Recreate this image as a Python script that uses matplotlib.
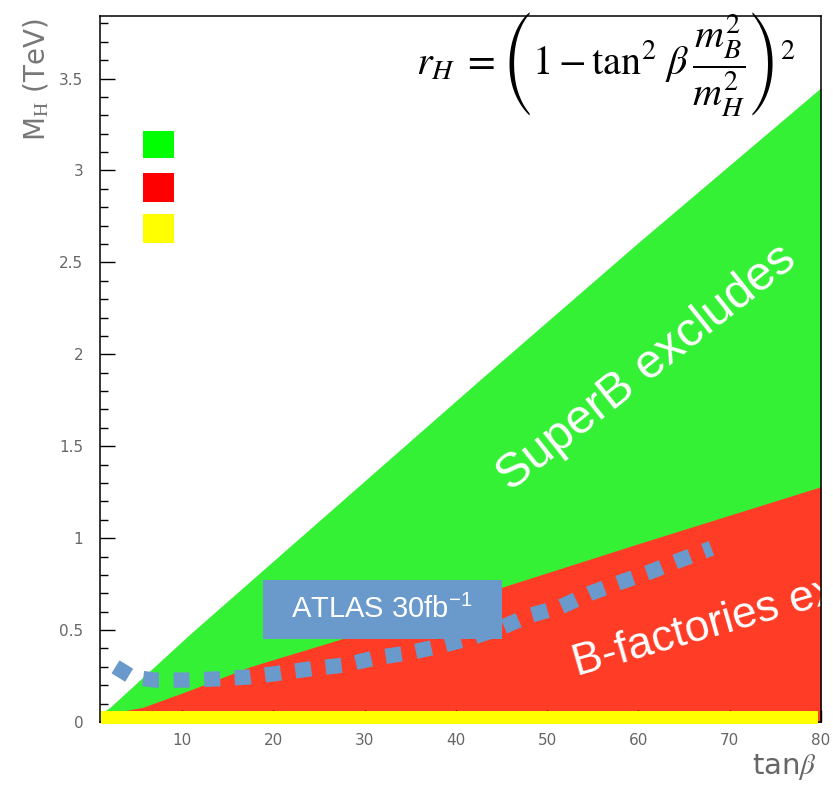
import matplotlib.pyplot as plt
from matplotlib.patches import Rectangle
from matplotlib.ticker import MultipleLocator, FixedLocator

# boundaries (tan beta, M_H in TeV)
tanb_superb = [1.5, 2.1, 10.9, 42.6, 59.8, 80.0]
mh_superb = [0.06, 0.08, 0.48, 1.86, 2.60, 3.45]

tanb_bfact = [3.5, 5.7, 10.9, 17.4, 30.0, 45.1, 60.0, 80.0]
mh_bfact = [0.06, 0.08, 0.174, 0.30, 0.49, 0.734, 0.97, 1.28]

tanb_band = [1.1, 79.7]
mh_band_lo = -0.01
mh_band_hi = 0.06

tanb_atlas = [2.7, 4.5, 7.0, 10.5, 14.0, 17.4, 20.7, 24.2, 27.8, 31.3, 34.7,
              38.0, 41.5, 44.8, 48.1, 51.4, 54.7, 58.0, 61.2, 64.5, 68.0]
mh_atlas = [0.30, 0.245, 0.228, 0.228, 0.235, 0.245, 0.266, 0.29, 0.31, 0.35,
            0.375, 0.41, 0.455, 0.51, 0.58, 0.625, 0.70, 0.76, 0.815, 0.88, 0.945]

xticks = [10, 20, 30, 40, 50, 60, 70, 80]
yticks = [0, 0.5, 1, 1.5, 2, 2.5, 3, 3.5]
ytick_labels = ["0", "0.5", "1", "1.5", "2", "2.5", "3", "3.5"]

green = "#35f135"
red = "#ff3c26"
yellow = "#ffff00"
blue = "#6a9acb"

plt.rcParams['font.family'] = ['Liberation Sans', 'DejaVu Sans']
plt.rcParams['mathtext.fontset'] = 'stix'

fig = plt.figure(figsize=(8.33, 7.87), dpi=100)
ax = fig.add_axes([100 / 833, 65 / 787, 721 / 833, 706 / 787])

ax.fill_between(tanb_superb, 0, mh_superb, color=green, lw=0, zorder=1)
ax.fill_between(tanb_bfact, 0, mh_bfact, color=red, lw=0, zorder=1.2)
ax.fill_between(tanb_band, mh_band_lo, mh_band_hi, color=yellow, lw=0,
                zorder=3, clip_on=False)

ax.plot(tanb_atlas, mh_atlas, color=blue, lw=11, linestyle=(0, (1.05, 0.95)),
        solid_capstyle='butt', dash_capstyle='butt', zorder=2)

# legend-like colour swatches
for (y0, y1, c) in [(3.065, 3.217, "#00ff00"), (2.826, 2.984, "#ff0000"),
                    (2.603, 2.761, yellow)]:
    ax.add_patch(Rectangle((5.7, y0), 3.4, y1 - y0, color=c, lw=0, zorder=2))

# ATLAS label box
ax.add_patch(Rectangle((18.85, 0.451), 26.25, 0.321, color=blue, lw=0, zorder=2.2))
ax.text(31.9, 0.61, r"ATLAS 30fb$^{\mathregular{-1}}$", color="white",
        fontsize=21, ha="center", va="center", zorder=2.3)

ax.text(46.0, 1.25, "SuperB excludes", color="white", fontsize=35,
        rotation=38.5, rotation_mode="anchor", ha="left", va="baseline", zorder=2.3)
ax.text(53.3, 0.25, "B-factories excludes", color="white", fontsize=32,
        rotation=16, rotation_mode="anchor", ha="left", va="baseline",
        zorder=2.3, clip_on=True)

ax.set_xlim(1, 80)
ax.set_ylim(0, 3.84)
ax.xaxis.set_major_locator(FixedLocator(xticks))
ax.yaxis.set_major_locator(FixedLocator(yticks))
ax.set_yticklabels(ytick_labels)
ax.yaxis.set_minor_locator(MultipleLocator(0.1))
ax.tick_params(axis='y', which='major', direction='in', length=11, width=1,
               pad=12, labelsize=11, labelcolor='#666666')
ax.tick_params(axis='y', which='minor', direction='in', length=6, width=1)
ax.tick_params(axis='x', which='major', direction='in', length=9, width=1,
               pad=8, labelsize=11, labelcolor='#666666')
for lab in ax.get_xticklabels() + ax.get_yticklabels():
    lab.set_family('DejaVu Sans')
for s in ax.spines.values():
    s.set_linewidth(1.1)

fig.text(37 / 833, 1 - 18 / 787, r"M$_{\mathrm{H}}$ (TeV)", rotation=90,
         ha="center", va="top", fontsize=20, color="#777777", family="DejaVu Sans")
fig.text(817 / 833, 1 - 767 / 787, r"tan$\beta$", ha="right", va="center",
         fontsize=21, color="#666666", family="DejaVu Sans")

fig.text(606 / 833, 1 - 64 / 787,
         r"$r_H\; = \left(1 - \tan^2\,\beta\,\dfrac{m_B^2}{m_H^2}\right)^2$",
         ha="center", va="center", fontsize=29, color="black")

fig.savefig("out.png", dpi=100)
